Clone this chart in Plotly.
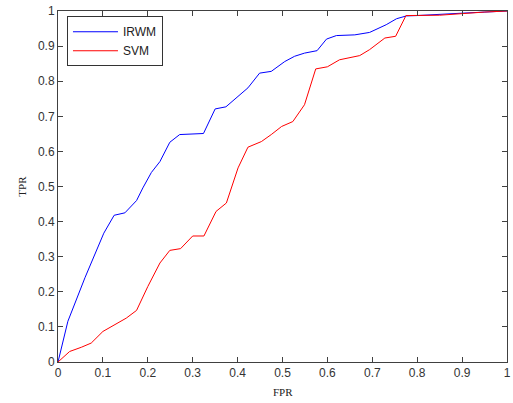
import plotly.graph_objects as go

irwm_fpr = [0.0, 0.022, 0.060, 0.102, 0.125, 0.149, 0.175, 0.189, 0.208, 0.227, 0.249, 0.271,
            0.324, 0.350, 0.374, 0.412, 0.423, 0.449, 0.475, 0.505, 0.527, 0.549, 0.577,
            0.598, 0.620, 0.661, 0.694, 0.731, 0.754, 0.776, 0.800, 0.902, 0.984, 1.0]
irwm_tpr = [0.0, 0.116, 0.240, 0.367, 0.418, 0.425, 0.460, 0.496, 0.540, 0.571, 0.626, 0.648,
            0.651, 0.721, 0.727, 0.768, 0.781, 0.823, 0.828, 0.856, 0.871, 0.880, 0.887,
            0.920, 0.930, 0.932, 0.939, 0.961, 0.978, 0.986, 0.987, 0.994, 1.0, 1.0]

svm_fpr = [0.0, 0.026, 0.052, 0.074, 0.100, 0.126, 0.152, 0.175, 0.200, 0.227, 0.249, 0.273,
           0.300, 0.325, 0.352, 0.375, 0.401, 0.423, 0.453, 0.475, 0.498, 0.523, 0.549,
           0.574, 0.600, 0.627, 0.672, 0.694, 0.728, 0.752, 0.775, 0.850, 0.900, 0.950, 1.0]
svm_tpr = [0.0, 0.030, 0.042, 0.054, 0.087, 0.106, 0.125, 0.147, 0.215, 0.282, 0.318, 0.323,
           0.359, 0.359, 0.429, 0.453, 0.553, 0.612, 0.628, 0.648, 0.671, 0.685, 0.733,
           0.835, 0.841, 0.861, 0.873, 0.890, 0.923, 0.928, 0.987, 0.988, 0.993, 0.997, 1.0]

ticks = [round(i * 0.1, 1) for i in range(11)]
tick_text = ["0", "0.1", "0.2", "0.3", "0.4", "0.5", "0.6", "0.7", "0.8", "0.9", "1"]

fig = go.Figure()
fig.add_trace(go.Scatter(x=irwm_fpr, y=irwm_tpr, mode="lines", name="IRWM",
                         line=dict(color="#0000FF", width=1)))
fig.add_trace(go.Scatter(x=svm_fpr, y=svm_tpr, mode="lines", name="SVM",
                         line=dict(color="#FF0000", width=1)))

axis_common = dict(range=[0, 1], tickvals=ticks, ticktext=tick_text, ticks="inside",
                   ticklen=5, tickcolor="#404040", linecolor="#404040", linewidth=1,
                   mirror="ticks", showgrid=False, zeroline=False, showline=True,
                   automargin=False,
                   tickfont=dict(family="Liberation Sans, Arial", size=12, color="#333333"))

title_font = dict(family="Liberation Serif, Times New Roman", size=11, color="#222222")

fig.update_layout(
    width=513, height=403,
    margin=dict(l=58, r=6, t=11, b=41),
    paper_bgcolor="white", plot_bgcolor="white",
    xaxis=dict(**axis_common),
    yaxis=dict(**axis_common),
    legend=dict(x=0.02, y=0.985, xanchor="left", yanchor="top", bgcolor="white",
                bordercolor="#333333", borderwidth=1, itemwidth=45,
                font=dict(family="Liberation Sans, Arial", size=12, color="#222222")),
    showlegend=True,
    annotations=[
        dict(text="FPR", x=0.5, y=-0.085, xref="paper", yref="paper", showarrow=False,
             xanchor="center", yanchor="middle", font=title_font),
        dict(text="TPR", x=-0.082, y=0.5, xref="paper", yref="paper", showarrow=False,
             textangle=-90, xanchor="center", yanchor="middle", font=title_font),
    ],
)

fig.write_html("out.html", config={"displayModeBar": False},
               post_script="document.body.style.margin='0';document.body.style.overflow='hidden';")
